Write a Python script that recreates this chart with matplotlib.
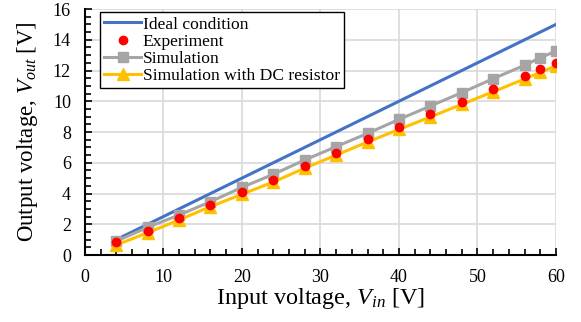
import numpy as np
import matplotlib
matplotlib.use("Agg")
import matplotlib.pyplot as plt
from matplotlib.ticker import MultipleLocator

plt.rcParams['font.family'] = ['Liberation Serif', 'DejaVu Serif']
plt.rcParams['mathtext.fontset'] = 'custom'
plt.rcParams['mathtext.it'] = 'Liberation Serif:italic'
plt.rcParams['mathtext.rm'] = 'Liberation Serif'

# input voltage sweep [V]
v_in = [4, 8, 12, 16, 20, 24, 28, 32, 36, 40, 44, 48, 52, 56, 58, 60]
ideal = [1, 2, 3, 4, 5, 6, 7, 8, 9, 10, 11, 12, 13, 14, 14.5, 15]
experiment = [0.83, 1.58, 2.43, 3.27, 4.10, 4.88, 5.81, 6.66, 7.52, 8.35,
              9.17, 9.97, 10.80, 11.64, 12.07, 12.51]
simulation = [0.90, 1.80, 2.60, 3.47, 4.40, 5.25, 6.18, 7.05, 7.91, 8.82,
              9.69, 10.56, 11.47, 12.34, 12.83, 13.27]
sim_dc = [0.65, 1.45, 2.28, 3.15, 3.95, 4.75, 5.65, 6.50, 7.35, 8.17,
          8.98, 9.80, 10.62, 11.45, 11.88, 12.30]

fig = plt.figure(figsize=(5.81, 3.22), dpi=100)
ax = fig.add_axes([0.146, 0.208, 0.811, 0.764])

l1, = ax.plot(v_in, ideal, color='#4472C4', lw=2.2, zorder=3)
l3, = ax.plot(v_in, simulation, color='#A5A5A5', lw=2.2, marker='s', ms=7, zorder=4)
l4, = ax.plot(v_in, sim_dc, color='#FFC000', lw=2.2, marker='^', ms=9, zorder=5)
l2, = ax.plot(v_in, experiment, ls='none', color='#FF0000', marker='o', ms=6, zorder=6)

ax.set_xlim(0, 60)
ax.set_ylim(0, 16)
ax.xaxis.set_major_locator(MultipleLocator(10))
ax.xaxis.set_minor_locator(MultipleLocator(2))
ax.yaxis.set_major_locator(MultipleLocator(2))
ax.yaxis.set_minor_locator(MultipleLocator(0.5))
ax.tick_params(which='both', direction='in', labelsize=13, width=1.2, color='black')
ax.tick_params(which='major', length=5, pad=10)
ax.tick_params(which='minor', length=4)
ax.grid(True, which='major', color='#D9D9D9', lw=1.2, zorder=0)
ax.spines['top'].set_visible(False)
ax.spines['right'].set_visible(False)
ax.spines['left'].set_linewidth(1.5)
ax.spines['bottom'].set_linewidth(1.5)

ax.set_xlabel('Input voltage, $V_{in}$ [V]', fontsize=17.5, labelpad=0)
ax.set_ylabel('Output voltage, $V_{out}$ [V]', fontsize=16.5, labelpad=9)

leg = ax.legend([l1, l2, l3, l4],
                ['Ideal condition', 'Experiment', 'Simulation', 'Simulation with DC resistor'],
                loc='upper left', bbox_to_anchor=(0.032, 0.988), fontsize=12.6,
                fancybox=False, framealpha=1, edgecolor='black', borderpad=0.25,
                labelspacing=0.05, handlelength=2.1, handletextpad=0.1, borderaxespad=0.0)
leg.get_frame().set_linewidth(1.0)

fig.savefig('out.png', dpi=100)
